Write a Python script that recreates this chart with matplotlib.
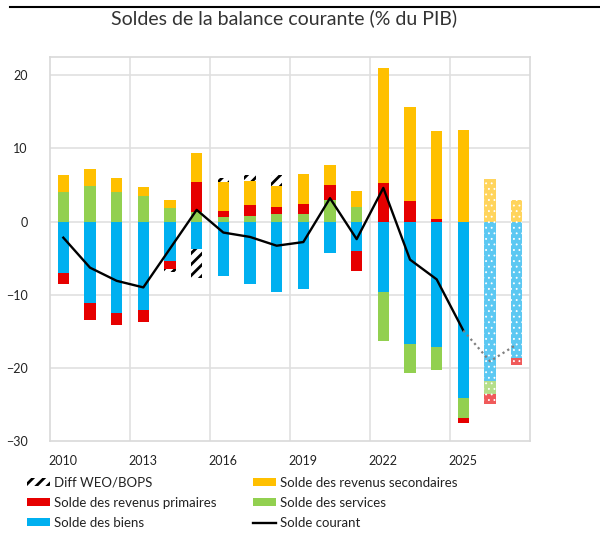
import numpy as np
import matplotlib
matplotlib.use("Agg")
import matplotlib.pyplot as plt
from matplotlib.patches import Patch
from matplotlib.lines import Line2D

plt.rcParams["font.family"] = ["Lato", "DejaVu Sans"]
plt.rcParams["hatch.linewidth"] = 2.0

#Data (% du PIB)
years = list(range(2010, 2028))
biens = [-7.0, -11.1, -12.5, -12.1, -5.4, -3.7, -7.4, -8.6, -9.6, -9.2,
         -4.3, -4.0, -9.6, -16.8, -17.2, -24.1, -21.8, -18.7]
services = [4.1, 4.8, 4.1, 3.5, 1.8, 1.3, 0.6, 0.8, 1.05, 1.1,
            2.9, 2.0, -6.7, -3.9, -3.1, -2.7, -1.8, 0.0]
primaires = [-1.6, -2.3, -1.6, -1.6, -1.1, 4.1, 0.9, 1.4, 0.95, 1.3,
             2.1, -2.7, 5.3, 2.8, 0.4, -0.8, -1.3, -0.9]
secondaires = [2.2, 2.4, 1.9, 1.2, 1.2, 4.0, 3.9, 3.3, 2.8, 4.1,
               2.7, 2.2, 15.7, 12.8, 12.0, 12.5, 5.8, 2.9]
diff = [0, 0, 0, 0, -0.4, -4.0, 0.6, 0.9, 1.6, 0,
        0, 0, 0, 0, 0, 0, 0, 0]
courant = [-2.2, -6.3, -8.1, -9.0, -3.7, 1.6, -1.5, -2.1, -3.3, -2.8,
           3.2, -2.4, 4.6, -5.2, -7.9, -14.9, -19.1, -16.8]
first_projection = 2026
tick_years = [2010, 2013, 2016, 2019, 2022, 2025]

#Colours
colors = {
    "biens": "#00B0F0",
    "services": "#92D050",
    "primaires": "#E60000",
    "secondaires": "#FFC000",
}
light = {
    "biens": "#5CC8F2",
    "services": "#B5DE8A",
    "primaires": "#F05A5A",
    "secondaires": "#FFD45C",
}

fig = plt.figure(figsize=(6, 5.33), dpi=100)
ax = fig.add_axes([50 / 600, 1 - 441 / 533, 480 / 600, 384 / 533])

width = 0.43
pos_base = np.zeros(len(years))
neg_base = np.zeros(len(years))

#Stack series: positives upwards, negatives downwards
series = [("biens", biens), ("services", services),
          ("primaires", primaires), ("secondaires", secondaires)]

for name, values in series:
    for i, (year, v) in enumerate(zip(years, values)):
        if v == 0:
            continue
        base = pos_base[i] if v > 0 else neg_base[i]
        if year >= first_projection:
            bars = ax.bar(year, v, width, bottom=base, color=light[name],
                          edgecolor="white", linewidth=0, hatch="...",
                          zorder=2)
            for b in bars:
                if hasattr(b, "set_hatch_linewidth"):
                    b.set_hatch_linewidth(0.6)
        else:
            ax.bar(year, v, width, bottom=base, color=colors[name],
                   linewidth=0, zorder=2)
        if v > 0:
            pos_base[i] += v
        else:
            neg_base[i] += v

#Diff WEO/BOPS hatched on top of the stacks
for i, (year, v) in enumerate(zip(years, diff)):
    if v == 0:
        continue
    base = pos_base[i] if v > 0 else neg_base[i]
    ax.bar(year, v, width, bottom=base, color="white", edgecolor="black",
           linewidth=0, hatch="///", zorder=2)

#Solde courant: solid line, dotted for projections
hist_x = [y for y in years if y <= first_projection - 1]
hist_y = courant[:len(hist_x)]
ax.plot(hist_x, hist_y, color="black", linewidth=1.7, zorder=3)
ax.plot(years[len(hist_x) - 1:], courant[len(hist_x) - 1:],
        color="#808080", linewidth=1.6, linestyle=(0, (1, 1.5)), zorder=3)

#Axes
ax.set_xlim(2009.5, 2027.5)
ax.set_ylim(-30, 22.5)
ax.set_yticks([20, 10, 0, -10, -20, -30])
ax.set_xticks(tick_years)
ax.tick_params(length=0, labelsize=9, colors="#222222")
ax.tick_params(axis="y", pad=16)
ax.tick_params(axis="x", pad=10)

for gx in np.arange(2012.5, 2027, 3):
    ax.axvline(gx, color="#E0E0E0", linewidth=1.2, zorder=0)
for gy in [20, 10, 0, -10, -20]:
    ax.axhline(gy, color="#E0E0E0", linewidth=1.2, zorder=0)
for spine in ax.spines.values():
    spine.set_color("#D9D9D9")
    spine.set_linewidth(1.2)

fig.text(284 / 600, 1 - 18 / 533, "Soldes de la balance courante (% du PIB)",
         ha="center", va="center", fontsize=14, color="#333333")

#Header rule
fig.add_artist(Line2D([10 / 600, 1], [1 - 7 / 533, 1 - 7 / 533],
                      color="black", linewidth=1.5))

#Legend in two columns
col1 = [
    Patch(facecolor="white", edgecolor="black", linewidth=0, hatch="///",
          label="Diff WEO/BOPS"),
    Patch(facecolor=colors["primaires"], label="Solde des revenus primaires"),
    Patch(facecolor=colors["biens"], label="Solde des biens"),
]
col2 = [
    Patch(facecolor=colors["secondaires"],
          label="Solde des revenus secondaires"),
    Patch(facecolor=colors["services"], label="Solde des services"),
    Line2D([0], [0], color="black", linewidth=1.7, label="Solde courant"),
]
for handles, x in [(col1, 20 / 600), (col2, 246 / 600)]:
    fig.legend(handles=handles, loc="upper left",
               bbox_to_anchor=(x, 1 - 470 / 533), frameon=False,
               fontsize=9.5, handlelength=1.8, handleheight=0.55,
               handletextpad=0.3, labelspacing=0.62, borderpad=0,
               labelcolor="#222222")

fig.savefig("out.png", dpi=100)
